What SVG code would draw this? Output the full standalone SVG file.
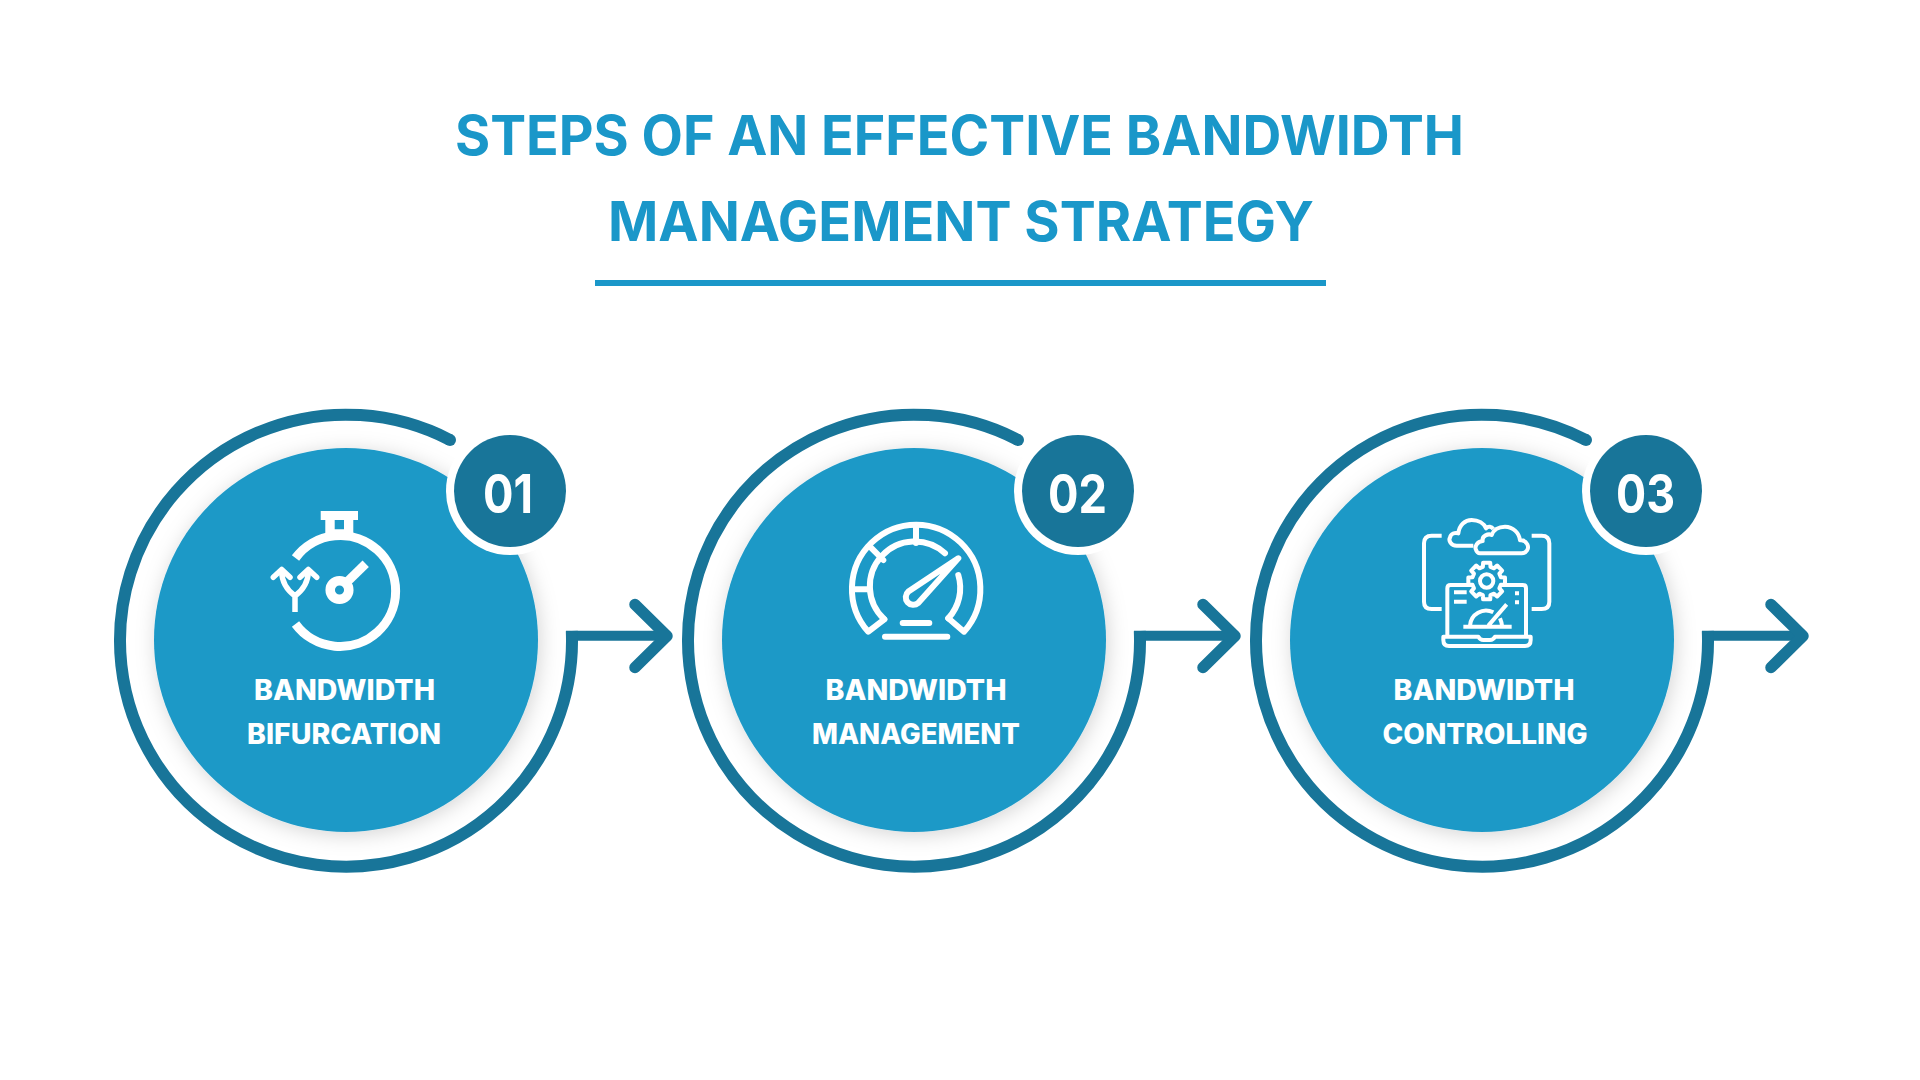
<svg xmlns="http://www.w3.org/2000/svg" xmlns:xlink="http://www.w3.org/1999/xlink" width="1920" height="1080" viewBox="0 0 1920 1080">
<style>
text{font-family:"Inter","Liberation Sans",sans-serif}
.title{font-size:55px;font-weight:700;fill:#1a97c9}
.label{font-size:28px;font-weight:800;fill:#fff}
.num{font-size:54px;font-weight:700;fill:#fff}
.ring{fill:none;stroke:#187599;stroke-width:12}
.conn{fill:none;stroke:#187599}
.ic{fill:none;stroke:#fff;stroke-linejoin:round}
.rc{stroke-linecap:round}
</style>
<defs>
<filter id="sh" x="-20%" y="-20%" width="140%" height="140%"><feDropShadow dx="2" dy="3" stdDeviation="10" flood-color="#000" flood-opacity=".17"/></filter>
<g id="base">
<path class="ring" d="M450 440A226 226 0 1 0 571.8 631"/>
<circle cx="450" cy="440" r="6" fill="#187599"/>
<circle cx="346" cy="640" r="192" fill="#1c99c7" filter="url(#sh)"/>
<circle cx="510" cy="491" r="64" fill="#fff"/>
<circle cx="510" cy="491" r="56" fill="#187599"/>
</g>
<g id="arrow">
<path d="M566 635.7H664" class="conn" stroke-width="10"/>
<path d="M635 604.5L667 636L635 667.5" class="conn rc" stroke-width="11.5" stroke-linejoin="round"/>
</g>
</defs>
<rect width="1920" height="1080" fill="#fff"/>
<g id="title">
<text class="title" x="455" y="155" textLength="1009" lengthAdjust="spacingAndGlyphs">STEPS OF AN EFFECTIVE BANDWIDTH</text>
<text class="title" x="608" y="241" textLength="706" lengthAdjust="spacingAndGlyphs">MANAGEMENT STRATEGY</text>
<rect x="595" y="280" width="731" height="6" fill="#1a97c9"/>
</g>
<g id="connectors">
<use href="#arrow"/>
<use href="#arrow" transform="translate(568 0)"/>
<use href="#arrow" transform="translate(1136 0)"/>
</g>
<g id="step1">
<use href="#base"/>
<text class="num" x="483" y="512.5" textLength="50" lengthAdjust="spacingAndGlyphs">01</text>
<g class="ic" stroke-width="9">
<path d="M295.5 558A55.5 55.5 0 1 1 295.5 624"/>
<circle cx="339.5" cy="590" r="9.3" stroke-width="9.5"/>
<path d="M347 582L365.7 563.7"/>
</g>
<path d="M320.7 511H358V520H353.3V534H325.3V520H320.7ZM334.7 520V529.3H344V520Z" fill="#fff" fill-rule="evenodd"/>
<g class="ic rc" stroke-width="5.5">
<path d="M295 612V596M295 596C287 590 282 583 281.7 572M295 596C303 590 308 583 308.3 572" stroke-linecap="butt"/>
<path d="M273.3 577.3L281.7 569.5L290 577.3M300 577.3L308.3 569.5L316.7 577.3"/>
</g>
<text class="label" x="254" y="700" textLength="181" lengthAdjust="spacingAndGlyphs">BANDWIDTH</text>
<text class="label" x="247" y="744" textLength="194" lengthAdjust="spacingAndGlyphs">BIFURCATION</text>
</g>
<g id="step2">
<use href="#base" transform="translate(568 0)"/>
<text class="num" x="1048" y="512.5" textLength="59" lengthAdjust="spacingAndGlyphs">02</text>
<g class="ic rc" stroke-width="6">
<path d="M884.3 619.3L868.3 631.7A64.2 64.2 0 1 1 964 631.7L948.3 618.3"/>
<path d="M884.3 619.3A44.5 44.5 0 0 1 945 553.3" />
<path d="M958.3 575A44.5 44.5 0 0 1 948.3 618.3"/>
<path d="M916 527V543M871.7 548.3L883.3 560M852.7 589.3H870"/>
<path d="M958.3 558.3L908.4 591.6A7.5 7.5 0 0 0 918.2 603Z"/>
<path d="M902.7 623H929.3M885 636.7H947.3"/>
</g>
<text class="label" x="825.5" y="700" textLength="181" lengthAdjust="spacingAndGlyphs">BANDWIDTH</text>
<text class="label" x="812" y="744" textLength="208" lengthAdjust="spacingAndGlyphs">MANAGEMENT</text>
</g>
<g id="step3">
<use href="#base" transform="translate(1136 0)"/>
<text class="num" x="1616" y="512.5" textLength="59" lengthAdjust="spacingAndGlyphs">03</text>
<g class="ic" stroke-width="12" transform="translate(1410 505) scale(.33333)">
<path d="M95 92H65Q42 92 42 115V290Q42 312 65 312H95M365 92H395Q418 92 418 115V290Q418 312 395 312H365"/>
<path d="M190 122H140C122 122 115 105 120 98C122 85 135 82 145 85C148 60 165 45 185 45C205 45 222 55 228 70C235 62 245 65 250 72"/>
<path d="M210 145H335C350 145 358 130 352 118C347 108 337 105 330 106C328 85 310 65 285 65C265 65 250 75 245 90C235 85 215 92 218 108C200 110 195 125 197 132C200 142 205 145 210 145Z"/>
<path d="M112 395V250Q112 240 122 240H338Q348 240 348 250V395"/>
<path d="M100 395H205Q210 405 220 405H240Q250 405 255 395H362V405Q362 423 345 423H117Q100 423 100 405Z"/>
<path d="M132 262H170M132 290H170M315 265H327M315 292H327M160 365H305M180 362A48 48 0 0 1 250 322M270 340Q275 352 276 362M235 362L290 298"/>
<path fill="#1c99c7" transform="translate(230 228)" d="M42.5-11.4L55-10.7V10.7L42.5 11.4L38.1 22L46.4 31.3L31.3 46.4L22 38.1L11.4 42.5L10.7 55H-10.7L-11.4 42.5L-22 38.1L-31.3 46.4L-46.4 31.3L-38.1 22L-42.5 11.4L-55 10.7V-10.7L-42.5-11.4L-38.1-22L-46.4-31.3L-31.3-46.4L-22-38.1L-11.4-42.5L-10.7-55H10.7L11.4-42.5L22-38.1L31.3-46.4L46.4-31.3L38.1-22Z"/>
<circle cx="230" cy="228" r="20"/>
</g>
<text class="label" x="1393.5" y="700" textLength="181" lengthAdjust="spacingAndGlyphs">BANDWIDTH</text>
<text class="label" x="1382.5" y="744" textLength="205" lengthAdjust="spacingAndGlyphs">CONTROLLING</text>
</g>
</svg>
